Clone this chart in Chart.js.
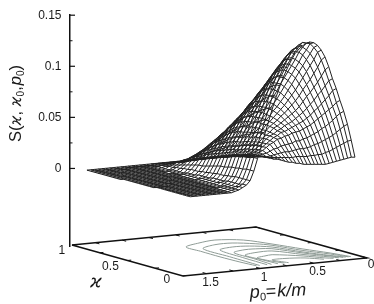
<!DOCTYPE html>
<html>
<head>
<meta charset="utf-8">
<script src="https://cdn.jsdelivr.net/npm/chart.js@4"></script>
<style>
  html, body { margin: 0; padding: 0; background: #fff; }
  canvas { display: block; }
</style>
</head>
<body>
<canvas id="surfaceChart" width="374" height="304"></canvas>
<script>
// surface grid
const pValues = [0.04,0.075,0.11,0.145,0.18,0.215,0.25,0.285,0.32,0.355,0.39,0.425,0.46,0.495,0.53,0.565,0.6,0.635,0.67,0.705,0.74,0.775,0.81,0.845,0.88,0.915,0.95,0.985,1.02,1.055,1.09,1.125,1.16,1.195,1.23,1.265,1.3,1.335,1.37,1.405,1.44,1.475,1.51,1.545,1.58];
const kappaValues = [0.07,0.103,0.136,0.17,0.203,0.236,0.269,0.302,0.336,0.369,0.402,0.435,0.468,0.501,0.534,0.567,0.6,0.634,0.667,0.7,0.733,0.766,0.8,0.833,0.866,0.9,0.933,0.966,1];

// S in units of 0.001, one row per kappa, one column per p
const surfaceRows = [
  [21,38,54,67,78,90,100,112,122,129,134,137,138,137,135,132,128,122,115,107,98,88,77,65,53,41,29,17,8,4,2,0,-1,-2,-2,-2,-2,-2,-2,-2,-2,-2,-2,-2,-2],
  [20,36,51,64,75,87,97,108,118,126,131,135,136,137,135,132,128,122,115,107,98,88,76,65,53,41,29,17,8,4,2,0,-1,-2,-2,-2,-2,-2,-2,-2,-2,-2,-2,-2,-2],
  [18,33,47,60,70,81,91,101,110,118,124,128,131,132,131,129,125,120,113,105,96,86,74,63,52,40,28,17,8,3,1,0,-1,-2,-2,-2,-2,-2,-2,-2,-2,-2,-2,-2,-2],
  [16,30,43,55,66,76,85,94,103,111,117,122,125,126,126,124,120,115,109,101,93,83,72,61,50,39,27,16,8,3,1,0,-1,-2,-2,-2,-2,-2,-2,-2,-2,-2,-2,-2,-2],
  [14,27,39,51,62,71,80,88,96,104,110,114,117,119,119,117,114,110,104,97,89,80,69,59,48,38,27,16,8,3,1,0,-1,-2,-2,-2,-2,-2,-2,-2,-2,-2,-2,-2,-2],
  [12,24,36,47,58,66,74,82,90,97,103,107,110,112,112,111,108,104,98,92,84,76,67,57,47,37,26,15,7,3,1,-1,-2,-2,-2,-2,-2,-2,-2,-2,-2,-2,-2,-2,-2],
  [10,21,33,44,54,62,69,77,84,90,96,100,103,105,105,104,102,98,93,87,80,72,64,54,45,35,25,15,7,2,1,-1,-2,-2,-2,-2,-2,-2,-2,-2,-2,-2,-2,-2,-2],
  [8,19,30,40,50,57,64,71,77,83,89,93,96,97,98,97,95,92,87,82,75,69,62,53,43,34,24,14,6,2,0,-1,-2,-2,-2,-2,-2,-2,-2,-2,-2,-2,-2,-2,-2],
  [6,16,27,37,46,53,59,65,71,77,82,86,89,90,91,91,89,86,82,77,71,65,59,50,41,32,23,13,6,2,0,-1,-2,-2,-2,-2,-2,-2,-2,-2,-2,-2,-2,-2,-2],
  [5,15,25,34,43,49,55,60,66,71,75,79,81,83,84,84,83,80,76,72,67,61,55,47,39,31,22,13,6,2,0,-1,-2,-2,-2,-2,-2,-2,-2,-2,-2,-2,-2,-2,-2],
  [4,13,22,31,40,46,51,56,61,65,69,72,74,76,77,77,76,74,71,67,62,57,52,44,37,29,20,12,5,1,0,-1,-2,-2,-2,-2,-2,-2,-2,-2,-2,-3,-3,-3,-3],
  [3,12,20,29,37,43,47,52,56,60,63,66,68,69,70,70,70,68,65,61,57,53,48,41,34,27,19,11,5,1,0,-1,-2,-2,-2,-2,-2,-2,-2,-2,-3,-3,-3,-3,-3],
  [2,10,18,26,35,40,44,48,52,55,58,60,62,63,64,64,64,62,60,56,53,49,45,38,32,25,18,10,4,1,-1,-2,-2,-2,-2,-2,-2,-2,-3,-3,-3,-3,-3,-3,-3],
  [1,9,17,25,33,37,41,44,47,50,52,54,56,57,58,58,58,56,54,51,48,45,41,35,29,23,16,9,4,1,-1,-2,-2,-2,-2,-2,-2,-3,-3,-3,-3,-3,-3,-3,-3],
  [0,8,15,22,30,34,37,40,43,45,47,49,50,51,52,52,52,50,48,46,43,40,37,32,26,21,15,8,3,0,-1,-2,-2,-2,-2,-2,-3,-3,-3,-3,-3,-3,-3,-3,-3],
  [0,7,13,20,28,32,34,37,39,41,42,44,45,45,46,46,46,45,43,41,38,36,33,28,24,19,13,8,3,0,-1,-2,-2,-2,-2,-3,-3,-3,-3,-3,-3,-3,-3,-3,-3],
  [-1,5,11,18,25,28,30,32,34,35,37,38,39,39,40,40,40,39,37,35,33,31,29,25,21,17,12,7,3,0,-1,-2,-2,-2,-3,-3,-3,-3,-3,-3,-3,-3,-3,-3,-3],
  [-1,4,10,16,23,25,27,28,30,31,32,32,33,33,34,34,34,33,32,30,28,27,25,21,18,15,10,6,2,-1,-2,-2,-2,-3,-3,-3,-3,-3,-3,-3,-3,-3,-3,-3,-3],
  [-2,3,8,13,19,21,23,24,25,26,26,27,27,27,28,28,28,27,26,25,24,22,21,18,15,13,9,5,2,-1,-2,-2,-3,-3,-3,-3,-3,-3,-3,-3,-3,-3,-3,-3,-3],
  [-2,2,6,11,16,17,18,19,20,20,21,21,21,22,22,22,22,21,21,20,19,18,17,15,13,11,8,4,1,-1,-2,-3,-3,-3,-3,-3,-3,-3,-3,-3,-3,-3,-3,-3,-4],
  [-2,1,4,8,12,13,14,15,15,16,16,16,16,17,17,17,17,16,16,15,15,14,13,11,10,8,5,3,1,-1,-2,-3,-3,-3,-3,-3,-3,-3,-3,-3,-3,-3,-3,-4,-4],
  [-2,0,2,5,8,9,10,10,11,11,11,11,12,12,12,12,12,12,11,11,11,10,9,8,7,6,4,2,0,-2,-3,-3,-3,-3,-3,-3,-3,-3,-3,-3,-3,-3,-4,-4,-4],
  [-3,-1,0,3,5,6,6,7,7,7,8,8,8,8,8,8,8,8,8,7,7,7,6,5,5,4,3,1,0,-2,-3,-3,-3,-3,-3,-3,-3,-3,-3,-3,-3,-4,-4,-4,-4],
  [-3,-2,-1,1,2,3,3,3,3,4,4,4,4,4,4,4,4,4,4,4,4,3,3,3,2,2,1,0,-1,-2,-3,-3,-3,-3,-3,-3,-3,-3,-3,-3,-4,-4,-4,-4,-4],
  [-3,-2,-2,-1,0,1,1,1,2,2,2,2,2,2,2,2,2,2,2,2,2,1,1,1,1,0,0,-1,-1,-2,-3,-3,-3,-3,-3,-3,-3,-3,-3,-4,-4,-4,-4,-4,-4],
  [-3,-3,-3,-2,-2,-1,-1,-1,0,0,0,0,0,0,0,0,0,0,0,0,-1,-1,-1,-1,-1,-1,-2,-2,-3,-3,-3,-3,-3,-3,-3,-3,-3,-3,-4,-4,-4,-4,-4,-4,-4],
  [-4,-4,-3,-3,-3,-3,-2,-2,-2,-2,-1,-1,-1,-1,-1,-1,-1,-2,-2,-2,-2,-2,-2,-2,-2,-2,-2,-3,-3,-3,-3,-3,-3,-3,-3,-3,-4,-4,-4,-4,-4,-4,-4,-4,-4],
  [-4,-4,-4,-3,-3,-3,-3,-3,-3,-3,-3,-3,-3,-3,-3,-3,-3,-3,-3,-3,-3,-3,-3,-3,-3,-3,-3,-3,-4,-4,-4,-4,-4,-4,-4,-4,-4,-4,-4,-4,-4,-4,-4,-4,-4],
  [-4,-4,-4,-4,-4,-4,-4,-4,-4,-4,-4,-4,-4,-4,-4,-4,-4,-4,-4,-4,-4,-4,-4,-4,-4,-4,-4,-4,-4,-4,-4,-4,-4,-4,-4,-4,-4,-4,-4,-4,-4,-4,-4,-4,-4]
];

// contours on the base plane, outer to inner
const contourP = [
  [0.96,0.98,0.99,0.985,0.979,0.79,0.606,0.41,0.31,0.22,0.132,0.079],
  [0.93,0.925,0.92,0.904,0.722,0.562,0.42,0.342,0.257,0.157,0.1],
  [0.86,0.855,0.85,0.819,0.661,0.519,0.385,0.294,0.194,0.126],
  [0.82,0.81,0.8,0.788,0.638,0.517,0.427,0.319,0.206,0.15],
  [0.76,0.77,0.777,0.643,0.484,0.356,0.231,0.19],
  [0.7,0.74,0.76,0.656,0.575,0.393,0.29,0.24],
  [0.66,0.707,0.58,0.429,0.33]
];
const contourK = [
  [0.07,0.2,0.37,0.55,0.687,0.752,0.786,0.72,0.557,0.365,0.206,0.07],
  [0.07,0.2,0.35,0.606,0.674,0.674,0.603,0.526,0.329,0.18,0.07],
  [0.07,0.18,0.3,0.535,0.578,0.561,0.484,0.293,0.147,0.07],
  [0.07,0.15,0.25,0.439,0.484,0.474,0.445,0.268,0.135,0.07],
  [0.07,0.2,0.35,0.39,0.39,0.233,0.11,0.07],
  [0.07,0.15,0.258,0.287,0.3,0.197,0.098,0.07],
  [0.07,0.175,0.18,0.145,0.07]
];

const zTicks = [0, 0.05, 0.1, 0.15];
const zTickLabels = ["0", "0.05", "0.1", "0.15"];
const zMinorTicks = [0.025, 0.075, 0.125];
const pTicks = [0, 0.25, 0.5, 0.75, 1, 1.25, 1.5];
const pTickLabels = ["0", "0.5", "1", "1.5"];
const kappaTicks = [0, 0.25, 0.5, 0.75, 1];
const kappaTickLabels = ["1", "0.5", "0"];

// oblique projection of the base plane
const pMax = 1.72;
const zFloor = -0.0759;
function project(p, k, s) {
  return {
    x: 367 - 107 * p - 111 * k,
    y: s + (246 - (258 + 10.5 * p - 31 * k)) / 1027
  };
}
function line(points, color, width, tension) {
  return {
    data: points, showLine: true, pointRadius: 0, borderColor: color,
    borderWidth: width, tension: tension || 0, clip: false
  };
}

const datasets = [];

// base plane
const floorLine = (p, k) => project(p, k, zFloor);
datasets.push(line([floorLine(pMax, 1), floorLine(pMax, 0), floorLine(0, 0), floorLine(0, 1), floorLine(pMax, 1)], "#111", 1.5));
pTicks.forEach(p => {
  datasets.push(line([floorLine(p, 0), floorLine(p, 0.035)], "#111", 1));
  datasets.push(line([floorLine(p, 1), floorLine(p, 0.965)], "#111", 1));
});
kappaTicks.forEach(k => {
  datasets.push(line([floorLine(pMax, k), floorLine(pMax - 0.035, k)], "#111", 1));
  datasets.push(line([floorLine(0, k), floorLine(0.035, k)], "#111", 1));
});

// contours
contourP.forEach((ps, c) => {
  datasets.push(line(ps.map((p, i) => floorLine(p, contourK[c][i])), "#8f9c96", 1, 0.3));
});

// mesh
kappaValues.forEach((k, i) => {
  datasets.push(line(pValues.map((p, j) => project(p, k, surfaceRows[i][j] / 1000)), "#222", 1));
});
pValues.forEach((p, j) => {
  datasets.push(line(kappaValues.map((k, i) => project(p, k, surfaceRows[i][j] / 1000)), "#222", 1));
});

// inward ticks of the vertical axis
zTicks.forEach(t => datasets.push(line([{ x: 69.5, y: t }, { x: 75, y: t }], "#111", 1.2)));
zMinorTicks.forEach(t => datasets.push(line([{ x: 69.5, y: t }, { x: 72.5, y: t }], "#111", 1)));

const textFont = '"Liberation Sans", Arial, sans-serif';

function drawRun(ctx, x, y, angle, pieces) {
  ctx.save();
  ctx.translate(x, y);
  ctx.rotate(angle);
  ctx.textAlign = "left";
  ctx.textBaseline = "alphabetic";
  ctx.fillStyle = "#1a1a1a";
  let pos = 0;
  pieces.forEach(piece => {
    ctx.font = piece.font;
    ctx.fillText(piece.text, pos, piece.dy || 0);
    pos += ctx.measureText(piece.text).width + (piece.gap || 0);
  });
  ctx.restore();
}

const labelsPlugin = {
  id: "surfaceLabels",
  afterDraw(chart) {
    const ctx = chart.ctx;
    const xs = chart.scales.x;
    const ys = chart.scales.y;
    const place = (text, p, k, dx, dy) => {
      const f = floorLine(p, k);
      ctx.fillText(text, xs.getPixelForValue(f.x) + dx, ys.getPixelForValue(f.y) + dy);
    };
    ctx.save();
    ctx.font = "12px " + textFont;
    ctx.fillStyle = "#1a1a1a";
    ctx.textAlign = "center";
    ctx.textBaseline = "middle";
    [0, 0.5, 1, 1.5].forEach((p, i) => place(pTickLabels[i], p, 0, 4, i === 0 ? 7 : 9));
    place(kappaTickLabels[0], pMax, 1, -10, 6);
    place(kappaTickLabels[1], pMax, 0.5, -17, 6);
    place(kappaTickLabels[2], pMax, 0, -16, 4);
    ctx.restore();

    const big = "16.5px " + textFont;
    const bigI = "italic 16.5px " + textFont;
    const kap = 'italic 15px "DejaVu Sans"';
    const sub = "10px " + textFont;
    drawRun(ctx, 21, 142, -Math.PI / 2, [
      { text: "S(", font: big }, { text: "\u03f0", font: kap }, { text: ", ", font: big },
      { text: "\u03f0", font: kap }, { text: "0", font: sub, dy: 3 }, { text: ",", font: big, gap: 1 },
      { text: "p", font: bigI }, { text: "0", font: sub, dy: 3 }, { text: ")", font: big }
    ]);
    drawRun(ctx, 250, 298, -0.05, [
      { text: "p", font: "italic 18px " + textFont }, { text: "0", font: "11px " + textFont, dy: 3 },
      { text: "=", font: "18px " + textFont, gap: 1 }, { text: "k/m", font: "italic 18px " + textFont }
    ]);
    drawRun(ctx, 90, 287, 0, [{ text: "\u03f0", font: 'italic 18px "DejaVu Sans"' }]);
  }
};

new Chart(document.getElementById("surfaceChart"), {
  type: "scatter",
  data: { datasets: datasets },
  plugins: [labelsPlugin],
  options: {
    responsive: false,
    animation: false,
    layout: { padding: { top: 14, bottom: 58 } },
    plugins: { legend: { display: false }, tooltip: { enabled: false } },
    scales: {
      x: { type: "linear", min: 69.5, max: 374, display: false },
      y: {
        type: "linear", min: zFloor, max: 0.15,
        afterFit(scale) { scale.width = 69.5; },
        afterBuildTicks(scale) { scale.ticks = zTicks.map(v => ({ value: v })); },
        grid: { drawOnChartArea: false, drawTicks: false },
        border: { color: "#111", width: 1.5 },
        ticks: {
          padding: 8, color: "#1a1a1a", font: { family: textFont, size: 12 },
          callback: (v, i) => zTickLabels[i]
        }
      }
    }
  }
});
</script>
</body>
</html>
